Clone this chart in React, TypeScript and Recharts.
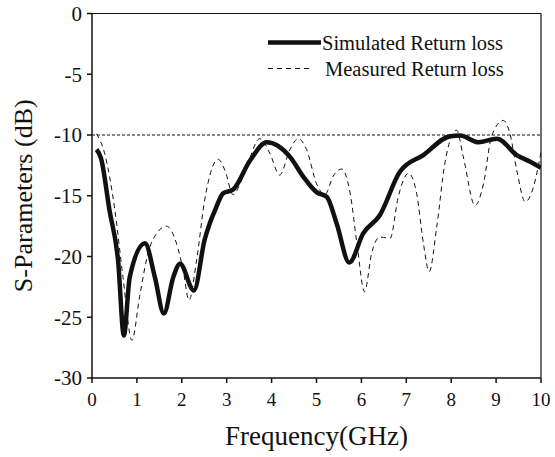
import React from "react";
import {
  Line,
  LineChart,
  ReferenceLine,
  XAxis,
  YAxis,
  Label,
} from "recharts";

// frequency (GHz) / return loss (dB)
const simFreq = [0.1, 0.2, 0.39, 0.58, 0.71, 0.84, 1.18, 1.4, 1.6, 1.81, 1.96, 2.27, 2.51, 2.62, 2.74, 2.92, 3.14, 3.52, 3.89, 4.41, 4.7, 5.0, 5.23, 5.45, 5.73, 6.04, 6.41, 6.86, 7.38, 7.98, 8.2, 8.61, 9.02, 9.46, 9.76, 10];
const simLoss = [-11.2, -11.9, -16.2, -20.3, -26.5, -21.7, -18.9, -21.7, -24.7, -21.7, -20.6, -22.8, -18.6, -17.3, -16.2, -14.8, -14.5, -12.1, -10.6, -11.8, -13.4, -14.7, -15.1, -17.3, -20.5, -18.1, -16.6, -13.0, -11.65, -10.1, -10.05, -10.6, -10.3, -11.65, -12.2, -12.7];

const measFreq = [0.1, 0.28, 0.51, 0.69, 0.89, 1.06, 1.25, 1.44, 1.66, 1.88, 2.03, 2.16, 2.33, 2.51, 2.81, 2.96, 3.14, 3.37, 3.74, 3.96, 4.18, 4.41, 4.59, 4.78, 5.0, 5.19, 5.37, 5.56, 5.75, 5.9, 6.07, 6.23, 6.41, 6.64, 6.82, 7.05, 7.23, 7.38, 7.51, 7.68, 7.86, 8.12, 8.27, 8.53, 8.72, 8.9, 9.16, 9.31, 9.46, 9.65, 9.83, 10];
const measLoss = [-9.9, -11.5, -16.2, -21.7, -26.9, -23.3, -19.7, -18.1, -17.5, -18.9, -21.1, -23.6, -20.3, -15.35, -12.0, -12.9, -14.9, -13.4, -10.3, -11.5, -13.3, -11.2, -10.3, -11.2, -14.0, -14.9, -13.4, -12.8, -14.8, -18.9, -22.9, -19.7, -18.4, -18.5, -15.1, -13.15, -14.8, -18.9, -21.25, -17.5, -12.3, -9.6, -11.8, -15.8, -14.0, -10.1, -8.8, -9.9, -12.9, -15.5, -14.3, -11.4];

const xTicks = [0, 1, 2, 3, 4, 5, 6, 7, 8, 9, 10];
const yTicks = [0, -5, -10, -15, -20, -25, -30];

const simData = simFreq.map((f, i) => ({ f, v: simLoss[i] }));
const measData = measFreq.map((f, i) => ({ f, v: measLoss[i] }));

const serif = "'Liberation Serif', 'Times New Roman', serif";
const sans = "'Liberation Sans', Arial, sans-serif";

// tick label fonts: set through css so they hit the default tick text
const tickCss = `
.recharts-xAxis .recharts-cartesian-axis-tick text {
  font-family: ${sans}; font-size: 19px; fill: #111;
}
.recharts-yAxis .recharts-cartesian-axis-tick text {
  font-family: ${serif}; font-size: 21px; fill: #111;
}
`;

function Overlay() {
  return (
    <svg
      width={555}
      height={457}
      style={{ position: "absolute", left: 0, top: 0, pointerEvents: "none" }}
    >
      <line x1={268} y1={42.5} x2={321} y2={42.5} stroke="#111" strokeWidth={4.5} />
      <text x={322} y={49.5} fontFamily={serif} fontSize={20.5} fill="#111">
        Simulated Return loss
      </text>
      <line x1={268} y1={68.5} x2={312} y2={68.5} stroke="#111" strokeWidth={1} strokeDasharray="5 4" />
      <text x={325} y={76} fontFamily={serif} fontSize={20.5} fill="#111">
        Measured Return loss
      </text>
    </svg>
  );
}

export default function App() {
  return (
    <div style={{ position: "absolute", left: 0, top: 0, width: 555, height: 457, background: "#fff" }}>
      <style>{tickCss}</style>
      <LineChart
        width={555}
        height={457}
        margin={{ top: 13.5, right: 14, left: 0, bottom: 0 }}
      >
        <XAxis
          dataKey="f"
          type="number"
          domain={[0, 10]}
          ticks={xTicks}
          allowDataOverflow
          height={79}
          tickSize={5}
          tickMargin={10}
          stroke="#111"
          strokeWidth={1.5}
          tick={{ fill: "#111", fontSize: 19 }}
        >
          <Label
            content={({ viewBox }: any) => (
              <text
                x={viewBox.x + viewBox.width / 2}
                y={445}
                textAnchor="middle"
                fontFamily={serif}
                fontSize={27}
                fill="#111"
              >
                Frequency(GHz)
              </text>
            )}
          />
        </XAxis>
        <YAxis
          type="number"
          domain={[-30, 0]}
          ticks={yTicks}
          width={92}
          tickSize={5}
          tickMargin={5}
          stroke="#111"
          strokeWidth={1.5}
          tick={{ fill: "#111", fontSize: 21 }}
        >
          <Label
            content={({ viewBox }: any) => {
              const cx = 32;
              const cy = viewBox.y + viewBox.height / 2;
              return (
                <text
                  x={cx}
                  y={cy}
                  transform={`rotate(-90, ${cx}, ${cy})`}
                  textAnchor="middle"
                  fontFamily={serif}
                  fontSize={26}
                  fill="#111"
                >
                  S-Parameters (dB)
                </text>
              );
            }}
          />
        </YAxis>
        <ReferenceLine y={0} stroke="#111" strokeWidth={1.2} />
        <ReferenceLine x={10} stroke="#111" strokeWidth={1.2} />
        <ReferenceLine y={-10} stroke="#111" strokeWidth={1} strokeDasharray="3 2" />
        <Line
          data={measData}
          dataKey="v"
          type="monotone"
          stroke="#111"
          strokeWidth={1}
          strokeDasharray="5 4"
          dot={false}
          isAnimationActive={false}
        />
        <Line
          data={simData}
          dataKey="v"
          type="monotone"
          stroke="#111"
          strokeWidth={4.5}
          dot={false}
          isAnimationActive={false}
        />
      </LineChart>
      <Overlay />
    </div>
  );
}
